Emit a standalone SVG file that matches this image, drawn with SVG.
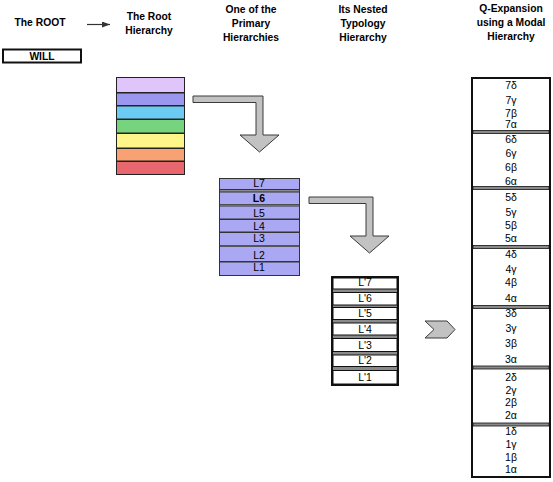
<svg xmlns="http://www.w3.org/2000/svg" width="553" height="482" viewBox="0 0 553 482">
<style>
.h{font-family:"Liberation Sans",Arial,sans-serif;font-weight:bold;font-size:10.3px;fill:#000;text-anchor:middle}
.t{font-family:"Liberation Sans",Arial,sans-serif;font-size:10.5px;fill:#000;text-anchor:middle}
.box{stroke:#111;stroke-width:2}
.row{stroke:#111;stroke-width:1}
.sep{fill:#8a8a8a;stroke:#111;stroke-width:0.8}
.arr{fill:#c2c2c2;stroke:#3a3a3a;stroke-width:1}
</style>
<defs>
<marker id="ah" viewBox="0 0 8 6" refX="8" refY="3" markerWidth="8" markerHeight="6" markerUnits="userSpaceOnUse" orient="auto">
<path d="M0,0 L8,3 L0,6 Z" fill="#333"/>
</marker>
</defs>
<rect width="553" height="482" fill="#fff"/>

<g id="headers">
<text class="h" x="40" y="26">The ROOT</text>
<text class="h" x="149" y="19.5">The Root</text>
<text class="h" x="149" y="34">Hierarchy</text>
<text class="h" x="251" y="12.5">One of the</text>
<text class="h" x="251" y="26.5">Primary</text>
<text class="h" x="251" y="40.5">Hierarchies</text>
<text class="h" x="363" y="12.5">Its Nested</text>
<text class="h" x="363" y="26.5">Typology</text>
<text class="h" x="363" y="40.5">Hierarchy</text>
<text class="h" x="511" y="11.5">Q-Expansion</text>
<text class="h" x="511" y="25.5">using a Modal</text>
<text class="h" x="511" y="39.5">Hierarchy</text>
</g>

<g id="connectors">
<line x1="87" y1="24.5" x2="110" y2="24.5" stroke="#333" stroke-width="1.2" marker-end="url(#ah)"/>
<polygon class="arr" points="193,96 263,96 263,135 279,135 259.5,152 240,135 256,135 256,102.5 193,102.5"/>
<polygon class="arr" points="309,197 373,197 373,236 389,236 369.5,253 350,236 366,236 366,203.5 309,203.5"/>
<polygon class="arr" points="425,321 447,321 455,329.5 447,338 425,338 434,329.5"/>
</g>

<g id="will">
<rect class="box" x="3" y="49.5" width="78" height="13" fill="#fff"/>
<text class="h" x="42" y="59.5">WILL</text>
</g>

<g id="root-hierarchy">
<rect x="116" y="77" width="69" height="98" fill="#222"/>
<rect x="117" y="78" width="67" height="14" fill="#dfc5fa"/>
<rect x="117" y="93.5" width="67" height="11.5" fill="#9c97ee"/>
<rect x="117" y="106.5" width="67" height="12" fill="#6bcbf2"/>
<rect x="117" y="120" width="67" height="12.5" fill="#77d47e"/>
<rect x="117" y="134" width="67" height="13.5" fill="#fef689"/>
<rect x="117" y="149" width="67" height="11.5" fill="#f8a273"/>
<rect x="117" y="162" width="67" height="12" fill="#e8666e"/>
</g>

<g id="primary-hierarchy">
<rect x="219" y="178" width="81" height="98" fill="#333"/>
<rect x="220" y="179" width="79" height="10" fill="#aaa8f2"/>
<rect x="220" y="192.5" width="79" height="11.5" fill="#aaa8f2"/>
<rect x="220" y="206.5" width="79" height="12" fill="#aaa8f2"/>
<rect x="220" y="220" width="79" height="11.5" fill="#aaa8f2"/>
<rect x="220" y="233" width="79" height="12" fill="#aaa8f2"/>
<rect x="220" y="247" width="79" height="14" fill="#aaa8f2"/>
<rect x="220" y="262.5" width="79" height="12.5" fill="#aaa8f2"/>
<line x1="220" y1="190.8" x2="299" y2="190.8" stroke="#8a8a8a" stroke-width="1.4"/>
<line x1="220" y1="205.2" x2="299" y2="205.2" stroke="#8a8a8a" stroke-width="1"/>
<line x1="220" y1="246" x2="299" y2="246" stroke="#8a8a8a" stroke-width="0.8"/>
<text class="t" x="259" y="186.5">L7</text>
<text class="t" x="259" y="201.5" font-weight="bold">L6</text>
<text class="t" x="259" y="216.5">L5</text>
<text class="t" x="259" y="229.5">L4</text>
<text class="t" x="259" y="242">L3</text>
<text class="t" x="259" y="258.5">L2</text>
<text class="t" x="259" y="271">L1</text>
</g>

<g id="nested-hierarchy">
<rect x="332" y="277" width="66" height="108" fill="#8a8a8a" stroke="#111" stroke-width="2"/>
<rect class="row" x="333" y="278" width="64" height="11" fill="#fff"/>
<rect class="row" x="333" y="292.5" width="64" height="12.5" fill="#fff"/>
<rect class="row" x="333" y="307.5" width="64" height="12" fill="#fff"/>
<rect class="row" x="333" y="323" width="64" height="12" fill="#fff"/>
<rect class="row" x="333" y="338.5" width="64" height="13" fill="#fff"/>
<rect class="row" x="333" y="355" width="64" height="11.5" fill="#fff"/>
<rect class="row" x="333" y="370.5" width="64" height="13.5" fill="#fff"/>
<text class="t" x="365" y="285.5">L'7</text>
<text class="t" x="365" y="302">L'6</text>
<text class="t" x="365" y="316.5">L'5</text>
<text class="t" x="365" y="333">L'4</text>
<text class="t" x="365" y="349">L'3</text>
<text class="t" x="365" y="364">L'2</text>
<text class="t" x="365" y="380.5">L'1</text>
</g>

<g id="modal-hierarchy">
<rect class="box" x="472" y="78" width="78" height="399" fill="#fff"/>
<rect class="sep" x="473" y="130.5" width="76" height="3"/>
<rect class="sep" x="473" y="186.5" width="76" height="3"/>
<rect class="sep" x="473" y="245.5" width="76" height="3"/>
<rect class="sep" x="473" y="305.5" width="76" height="3"/>
<rect class="sep" x="473" y="366" width="76" height="3"/>
<rect class="sep" x="473" y="423" width="76" height="3"/>
<text class="t" x="511" y="88.5">7δ</text>
<text class="t" x="511" y="104">7γ</text>
<text class="t" x="511" y="117">7β</text>
<text class="t" x="511" y="128">7α</text>
<text class="t" x="511" y="143">6δ</text>
<text class="t" x="511" y="156.5">6γ</text>
<text class="t" x="511" y="171">6β</text>
<text class="t" x="511" y="185">6α</text>
<text class="t" x="511" y="200.5">5δ</text>
<text class="t" x="511" y="216">5γ</text>
<text class="t" x="511" y="229">5β</text>
<text class="t" x="511" y="241.5">5α</text>
<text class="t" x="511" y="257.5">4δ</text>
<text class="t" x="511" y="273">4γ</text>
<text class="t" x="511" y="286">4β</text>
<text class="t" x="511" y="301.5">4α</text>
<text class="t" x="511" y="316.5">3δ</text>
<text class="t" x="511" y="331.5">3γ</text>
<text class="t" x="511" y="346.5">3β</text>
<text class="t" x="511" y="363">3α</text>
<text class="t" x="511" y="381">2δ</text>
<text class="t" x="511" y="393.5">2γ</text>
<text class="t" x="511" y="406">2β</text>
<text class="t" x="511" y="418.5">2α</text>
<text class="t" x="511" y="435">1δ</text>
<text class="t" x="511" y="448">1γ</text>
<text class="t" x="511" y="461">1β</text>
<text class="t" x="511" y="473">1α</text>
</g>
</svg>
